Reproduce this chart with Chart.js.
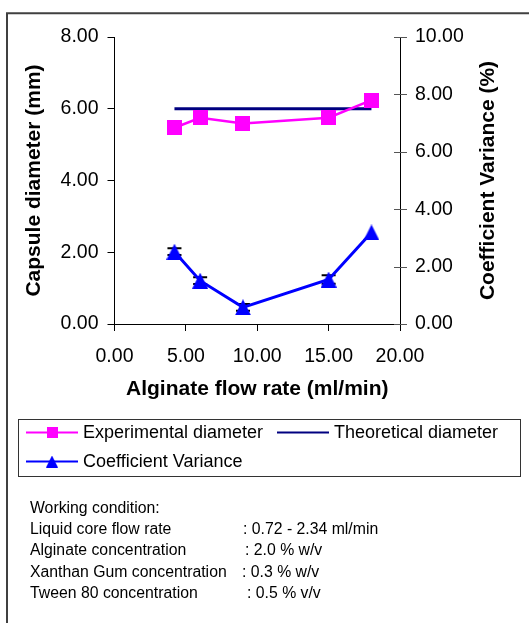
<!DOCTYPE html>
<html><head><meta charset="utf-8">
<script src="https://cdn.jsdelivr.net/npm/chart.js@4.4.0/dist/chart.umd.min.js"></script>
<style>html,body{margin:0;padding:0;background:#fff;overflow:hidden}#wrap{position:relative;width:529px;height:623px}</style>
</head><body><div id="wrap"><canvas id="c" width="529" height="623"></canvas></div>
<script>
// ---- data ----
const flowRates = [4.2, 6.0, 9.0, 15.0, 18.0];
const experimentalDiameter = [5.47, 5.75, 5.59, 5.75, 6.24];
const theoreticalX = [4.2, 18.0];
const theoreticalDiameter = [6.0, 6.0];
const coefficientVariance = [2.52, 1.51, 0.58, 1.55, 3.19];
const cvError = [0.12, 0.12, 0.12, 0.15, 0];
const xTicks = [0, 5, 10, 15, 20];
const leftTicks = [0, 2, 4, 6, 8];
const rightTicks = [0, 2, 4, 6, 8, 10];
const seriesNames = ['Experimental diameter', 'Theoretical diameter', 'Coefficient Variance'];
const xTitle = 'Alginate flow rate (ml/min)';
const leftTitle = 'Capsule diameter (mm)';
const rightTitle = 'Coefficient Variance (%)';
const conditionHeader = 'Working condition:';
const conditionLabels = ['Liquid core flow rate', 'Alginate concentration', 'Xanthan Gum concentration', 'Tween 80 concentration'];
const conditionValues = [': 0.72 - 2.34 ml/min', ': 2.0 % w/v', ': 0.3 % w/v', ': 0.5 % v/v'];

const FONT = "'Liberation Sans', Arial, Helvetica, sans-serif";
const MAGENTA = '#FF00FF', NAVY = '#000080', BLUE = '#0000FF';

function markerCanvas(kind, size, color) {
  const c = document.createElement('canvas');
  c.width = size; c.height = size;
  const g = c.getContext('2d');
  g.fillStyle = color;
  g.beginPath();
  if (kind === 'tri') {
    g.moveTo(size / 2, 0); g.lineTo(size, size); g.lineTo(0, size); g.closePath();
  } else {
    g.rect(0, 0, size, size);
  }
  g.fill();
  return c;
}
const sqPlot = markerCanvas('sq', 15, MAGENTA);
const triPlot = markerCanvas('tri', 16, BLUE);
const sqLeg = markerCanvas('sq', 11, MAGENTA);
const triLeg = markerCanvas('tri', 12, BLUE);

const toPts = (xs, ys) => xs.map((x, i) => ({ x: x, y: ys[i] }));

const decor = {
  id: 'decor',
  beforeDatasetsDraw(chart) {
    const ctx = chart.ctx, xs = chart.scales.x, ys = chart.scales.y1;
    ctx.save();
    ctx.strokeStyle = '#000'; ctx.lineWidth = 2;
    flowRates.forEach((f, i) => {
      const e = cvError[i];
      if (!e) return;
      const px = xs.getPixelForValue(f);
      const top = ys.getPixelForValue(coefficientVariance[i] + e);
      const bot = ys.getPixelForValue(coefficientVariance[i] - e);
      ctx.beginPath();
      ctx.moveTo(px, top); ctx.lineTo(px, bot);
      ctx.moveTo(px - 7, top); ctx.lineTo(px + 7, top);
      ctx.moveTo(px - 7, bot); ctx.lineTo(px + 7, bot);
      ctx.stroke();
    });
    ctx.restore();
  },
  afterDraw(chart) {
    const ctx = chart.ctx, ys = chart.scales.y1, ca = chart.chartArea;
    ctx.save();
    // right axis cross ticks
    ctx.strokeStyle = '#555'; ctx.lineWidth = 1;
    rightTicks.forEach(v => {
      const py = Math.round(ys.getPixelForValue(v)) + 0.5;
      ctx.beginPath(); ctx.moveTo(ca.right - 6, py); ctx.lineTo(ca.right + 7, py); ctx.stroke();
    });
    // outer frame
    ctx.strokeStyle = '#404040'; ctx.lineWidth = 2;
    ctx.beginPath(); ctx.moveTo(7, 623); ctx.lineTo(7, 13.3); ctx.lineTo(529, 13.3); ctx.stroke();
    // axis titles
    ctx.fillStyle = '#000';
    ctx.font = 'bold 21px ' + FONT;
    ctx.textAlign = 'center'; ctx.textBaseline = 'middle';
    const cx = (ca.left + ca.right) / 2, cy = (ca.top + ca.bottom) / 2;
    ctx.fillText(xTitle, cx, 389.5);
    ctx.save(); ctx.translate(34, cy); ctx.rotate(-Math.PI / 2); ctx.fillText(leftTitle, 0, 0); ctx.restore();
    ctx.save(); ctx.translate(488, cy); ctx.rotate(-Math.PI / 2); ctx.fillText(rightTitle, 0, 0); ctx.restore();
    // legend
    ctx.strokeStyle = '#333'; ctx.lineWidth = 1;
    ctx.strokeRect(18.5, 419.5, 502, 57);
    ctx.font = '18px ' + FONT; ctx.textAlign = 'left'; ctx.textBaseline = 'middle';
    const legItems = [
      { x: 26, y: 432.5, color: MAGENTA, marker: sqLeg, label: seriesNames[0] },
      { x: 277, y: 432.5, color: NAVY, marker: null, label: seriesNames[1] },
      { x: 26, y: 461.5, color: BLUE, marker: triLeg, label: seriesNames[2] }
    ];
    legItems.forEach(it => {
      ctx.strokeStyle = it.color; ctx.lineWidth = 2;
      ctx.beginPath(); ctx.moveTo(it.x, it.y); ctx.lineTo(it.x + 52, it.y); ctx.stroke();
      if (it.marker) ctx.drawImage(it.marker, it.x + 26 - it.marker.width / 2, it.y - it.marker.height / 2);
      ctx.fillStyle = '#000';
      ctx.fillText(it.label, it.x + 57, it.y + 1);
    });
    // working condition notes
    ctx.font = '15.8px ' + FONT; ctx.textBaseline = 'alphabetic';
    ctx.fillText(conditionHeader, 30, 512.5);
    const valX = [243, 245, 242, 247];
    conditionLabels.forEach((l, i) => {
      const by = 534 + i * 21.3;
      ctx.fillText(l, 30, by);
      ctx.fillText(conditionValues[i], valX[i], by);
    });
    ctx.restore();
  }
};

const tickFont = { family: FONT, size: 19.5 };
const fmt = v => Number(v).toFixed(2);

new Chart(document.getElementById('c'), {
  type: 'line',
  data: {
    datasets: [
      { label: seriesNames[0], data: toPts(flowRates, experimentalDiameter), yAxisID: 'y',
        borderColor: MAGENTA, backgroundColor: MAGENTA, borderWidth: 2.5, pointStyle: sqPlot, pointRadius: 8, tension: 0 },
      { label: seriesNames[1], data: toPts(theoreticalX, theoreticalDiameter), yAxisID: 'y',
        borderColor: NAVY, backgroundColor: NAVY, borderWidth: 3, pointRadius: 0, tension: 0 },
      { label: seriesNames[2], data: toPts(flowRates, coefficientVariance), yAxisID: 'y1',
        borderColor: BLUE, backgroundColor: BLUE, borderWidth: 3, pointStyle: triPlot, pointRadius: 8, tension: 0 }
    ]
  },
  options: {
    responsive: false, animation: false, devicePixelRatio: 1,
    layout: { autoPadding: false, padding: { top: 37, left: 0, right: 0, bottom: 0 } },
    plugins: { legend: { display: false }, tooltip: { enabled: false } },
    scales: {
      x: { type: 'linear', position: 'bottom', min: 0, max: 20,
        afterBuildTicks: s => { s.ticks = xTicks.map(v => ({ value: v })); },
        afterFit: s => { s.height = 299; },
        grid: { drawOnChartArea: false, drawTicks: true, tickLength: 7, color: '#000', lineWidth: 1 },
        border: { display: true, color: '#000', width: 1 },
        ticks: { callback: fmt, font: tickFont, color: '#000', padding: 14, maxRotation: 0, autoSkip: false } },
      y: { type: 'linear', position: 'left', min: 0, max: 8,
        afterBuildTicks: s => { s.ticks = leftTicks.map(v => ({ value: v })); },
        afterFit: s => { s.width = 114.5; },
        grid: { drawOnChartArea: false, drawTicks: true, tickLength: 7, color: '#000', lineWidth: 1 },
        border: { display: true, color: '#000', width: 1 },
        ticks: { callback: fmt, font: tickFont, color: '#000', padding: 9 } },
      y1: { type: 'linear', position: 'right', min: 0, max: 10,
        afterBuildTicks: s => { s.ticks = rightTicks.map(v => ({ value: v })); },
        afterFit: s => { s.width = 529 - 400; },
        grid: { drawOnChartArea: false, drawTicks: false },
        border: { display: true, color: '#000', width: 1 },
        ticks: { callback: fmt, font: tickFont, color: '#000', padding: 15 } }
    }
  },
  plugins: [decor]
});
</script></body></html>
